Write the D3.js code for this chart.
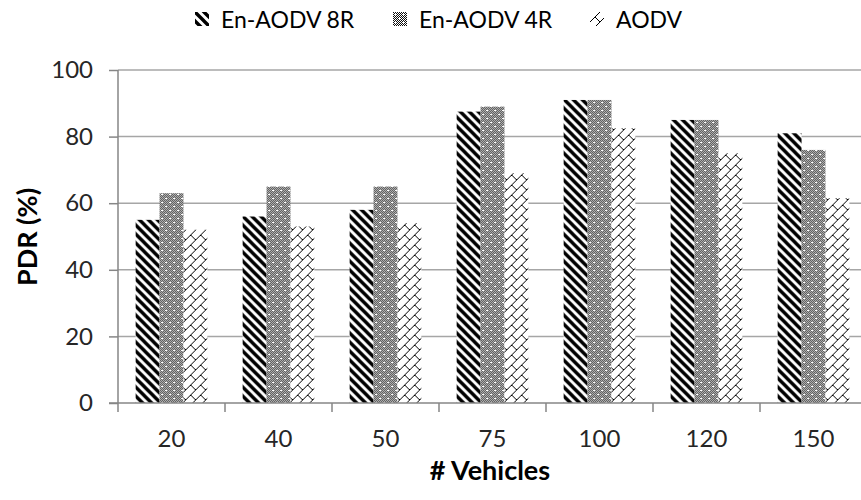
<!DOCTYPE html>
<html>
<head>
<meta charset="utf-8">
<script src="https://cdn.jsdelivr.net/npm/d3@7"></script>
<style>
  body { margin: 0; background: #fff; }
  text { font-family: Lato, "Open Sans", sans-serif; }
</style>
</head>
<body>
<svg id="chart" width="861" height="500"></svg>
<script>
// PDR vs number of vehicles, three protocols

var categories = ['20', '40', '50', '75', '100', '120', '150'];
var seriesNames = ['En-AODV 8R', 'En-AODV 4R', 'AODV'];
var en8r = [55, 56, 58, 87.5, 91, 85, 81];
var en4r = [63, 65, 65, 89, 91, 85, 76];
var aodv = [52, 53, 54, 69, 82.5, 75, 61.5];
var yTicks = [0, 20, 40, 60, 80, 100];

var seriesValues = [en8r, en4r, aodv];
var patternIds = ['p8r', 'p4r', 'paodv'];

var svg = d3.select('#chart');
var plotLeft = 118, plotTop = 70, plotBottom = 403;
var band = 107;

var xScale = d3.scaleBand()
  .domain(categories)
  .range([plotLeft, plotLeft + band * categories.length])
  .paddingInner(0.33)
  .paddingOuter(0.165);
var xSub = d3.scaleBand()
  .domain(seriesNames)
  .range([0, xScale.bandwidth()]);
var yScale = d3.scaleLinear()
  .domain([0, 100])
  .range([plotBottom, plotTop]);

// fill patterns
var defs = svg.append('defs');

var p1 = defs.append('pattern')
  .attr('id', 'p8r')
  .attr('patternUnits', 'userSpaceOnUse')
  .attr('width', 9).attr('height', 9);
p1.append('rect').attr('width', 9).attr('height', 9).attr('fill', '#fff');
p1.append('path')
  .attr('d', 'M-2,-2 L11,11 M-2,7 L2,11 M7,-2 L11,2')
  .attr('stroke', '#000').attr('stroke-width', 3.4);

var p2 = defs.append('pattern')
  .attr('id', 'p4r')
  .attr('patternUnits', 'userSpaceOnUse')
  .attr('width', 8).attr('height', 8);
p2.append('rect').attr('width', 8).attr('height', 8).attr('fill', '#fff');
for (var i = 0; i < 8; i++) {
  for (var j = 0; j < 8; j++) {
    if ((i + j) % 2 === 0) {
      p2.append('rect').attr('x', i).attr('y', j).attr('width', 1).attr('height', 1).attr('fill', '#111');
    }
  }
}
[[2, 2], [6, 6]].forEach(function(c){
  p2.append('rect').attr('x', c[0] - 1).attr('y', c[1]).attr('width', 3).attr('height', 1).attr('fill', '#fff');
  p2.append('rect').attr('x', c[0]).attr('y', c[1] - 1).attr('width', 1).attr('height', 3).attr('fill', '#fff');
});

var p3 = defs.append('pattern')
  .attr('id', 'paodv')
  .attr('patternUnits', 'userSpaceOnUse')
  .attr('width', 10).attr('height', 10);
p3.append('rect').attr('width', 10).attr('height', 10).attr('fill', '#fff');
p3.append('path')
  .attr('d', 'M0,10 L10,0 M5,5 L10,10')
  .attr('stroke', '#000').attr('stroke-width', 1).attr('fill', 'none');

// gridlines
svg.append('g')
  .selectAll('line')
  .data(yTicks.slice(1))
  .enter()
  .append('line')
  .attr('x1', plotLeft).attr('x2', 861)
  .attr('y1', function(d){ return yScale(d); })
  .attr('y2', function(d){ return yScale(d); })
  .attr('stroke', '#a6a6a6').attr('stroke-width', 1.5);

// bars
var groups = svg.append('g')
  .selectAll('g')
  .data(categories)
  .enter()
  .append('g')
  .attr('transform', function(d){ return 'translate(' + xScale(d) + ',0)'; });

groups.selectAll('rect')
  .data(function(d, i){
    return seriesNames.map(function(s, k){ return {s: s, k: k, v: seriesValues[k][i]}; });
  })
  .enter()
  .append('rect')
  .attr('x', function(d){ return xSub(d.s); })
  .attr('width', xSub.bandwidth())
  .attr('y', function(d){ return yScale(d.v); })
  .attr('height', function(d){ return plotBottom - yScale(d.v); })
  .attr('fill', function(d){ return 'url(#' + patternIds[d.k] + ')'; });

// axes
var yAxis = d3.axisLeft(yScale).tickValues(yTicks).tickSize(9).tickPadding(16);
var gy = svg.append('g')
  .attr('transform', 'translate(' + plotLeft + ',0)')
  .call(yAxis);
gy.select('.domain').attr('stroke', '#868686').attr('stroke-width', 1.5)
  .attr('d', 'M0,' + plotTop + 'V' + (plotBottom + 9));
gy.selectAll('.tick line').attr('stroke', '#868686').attr('stroke-width', 1.5);
gy.selectAll('.tick text')
  .attr('font-family', 'Lato, sans-serif')
  .attr('font-size', 24).attr('fill', '#262626');

var xEdges = d3.scaleLinear()
  .domain([0, categories.length])
  .range([plotLeft, plotLeft + band * categories.length]);
var gx = svg.append('g');
gx.append('line')
  .attr('x1', plotLeft - 9).attr('x2', 861)
  .attr('y1', plotBottom).attr('y2', plotBottom)
  .attr('stroke', '#868686').attr('stroke-width', 1.5);
gx.selectAll('line.tk')
  .data(d3.range(1, categories.length + 1))
  .enter()
  .append('line')
  .attr('class', 'tk')
  .attr('x1', function(d){ return xEdges(d); })
  .attr('x2', function(d){ return xEdges(d); })
  .attr('y1', plotBottom).attr('y2', plotBottom + 9)
  .attr('stroke', '#868686').attr('stroke-width', 1.5);
gx.selectAll('text')
  .data(categories)
  .enter()
  .append('text')
  .attr('x', function(d){ return xScale(d) + xScale.bandwidth() / 2; })
  .attr('y', 447)
  .attr('text-anchor', 'middle')
  .attr('font-size', 24).attr('fill', '#262626')
  .text(function(d){ return d; });

// axis titles
svg.append('text')
  .attr('x', 490).attr('y', 480)
  .attr('text-anchor', 'middle')
  .attr('font-size', 27).attr('font-weight', 'bold').attr('fill', '#000')
  .text('# Vehicles');
svg.append('text')
  .attr('transform', 'translate(37,237) rotate(-90)')
  .attr('text-anchor', 'middle')
  .attr('font-size', 27).attr('font-weight', 'bold').attr('fill', '#000')
  .text('PDR (%)');

// legend
var legendX = [195, 393, 590];
var legend = svg.append('g')
  .selectAll('g')
  .data(seriesNames)
  .enter()
  .append('g')
  .attr('transform', function(d, i){ return 'translate(' + legendX[i] + ',12)'; });
legend.append('rect')
  .attr('width', 14).attr('height', 14)
  .attr('fill', function(d, i){ return 'url(#' + patternIds[i] + ')'; });
legend.append('text')
  .attr('x', 26).attr('y', 16)
  .attr('font-size', 23).attr('fill', '#000')
  .text(function(d){ return d; });
</script>
</body>
</html>
